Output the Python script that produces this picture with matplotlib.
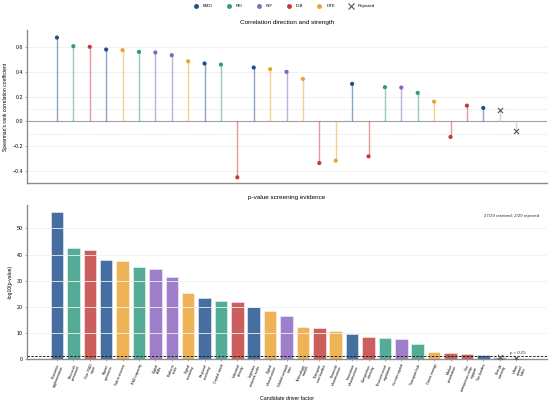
import numpy as np
import matplotlib
matplotlib.use('Agg')
import matplotlib.pyplot as plt
from matplotlib.lines import Line2D

plt.rcParams['font.family'] = ['Liberation Sans', 'DejaVu Sans']

# factors, sorted by p-value
factors = ['Economic\nagglomeration', 'Research\npersonnel', 'Gov. R&D\ninput', 'Export\nopenness',
           'Talent reserve', 'R&D capacity', 'Digital\nskills', 'Platform\nscale',
           'Digital\neconomy', 'Regional\neconomy', 'Capital stock', 'Industrial\ndensity',
           'Logistics\nnetwork scale', 'Digital\ninfrastructure', 'Global network\nlinks',
           'Technology\nmarket', 'Transport\ncost burden', 'Financial\ninfrastructure',
           'Innovation\ninfrastructure', 'Competition\nintensity', 'Environmental\nregulation',
           'Human capital', 'Transport hub', 'Green energy', 'Market\npenetration',
           'Gov.\nentrepreneurship\nsupport', 'Tax burden', 'Energy\nintensity',
           'Urban\nsprawl\nindex']
groups = ['EMO', 'FEI', 'IGB', 'EMO', 'DTE', 'FEI', 'INF', 'INF', 'DTE', 'EMO',
          'FEI', 'IGB', 'EMO', 'DTE', 'INF', 'DTE', 'IGB', 'DTE', 'EMO', 'IGB',
          'FEI', 'INF', 'FEI', 'DTE', 'IGB', 'IGB', 'EMO', 'REJ', 'REJ']
rho = [0.678, 0.608, 0.603, 0.581, 0.576, 0.562, 0.557, 0.535, 0.486, 0.468,
       0.459, -0.454, 0.435, 0.422, 0.400, 0.343, -0.338, -0.319, 0.303, -0.284,
       0.276, 0.273, 0.230, 0.159, -0.127, 0.127, 0.108, 0.095, -0.081]
neglogp = [56.4, 42.4, 41.9, 37.9, 37.4, 35.4, 34.6, 31.3, 25.2, 23.2,
           22.4, 21.7, 20.0, 18.6, 16.4, 12.4, 11.8, 10.6, 9.6, 8.5,
           7.9, 7.7, 5.8, 2.9, 2.2, 2.0, 1.6, 0.9, 0.6]

colors = {'EMO': '#1f4e8c', 'FEI': '#2f9a7f', 'INF': '#8a63bf', 'IGB': '#c23b3b',
          'DTE': '#eba232', 'REJ': '#9a9a9a'}
legend_order = ['EMO', 'FEI', 'INF', 'IGB', 'DTE']

n = len(rho)
x = np.arange(n)
threshold = -np.log10(0.05)

fig = plt.figure(figsize=(5.5, 4.04), dpi=100)
ax1 = fig.add_axes([0.049, 0.547, 0.946, 0.379])
ax2 = fig.add_axes([0.049, 0.111, 0.946, 0.382])

spine_col = '#8c8c8c'
for ax in (ax1, ax2):
    for s in ['top', 'right']:
        ax.spines[s].set_visible(False)
    for s in ['left', 'bottom']:
        ax.spines[s].set_color(spine_col)
        ax.spines[s].set_linewidth(1.0)
    ax.tick_params(labelsize=3.8, length=1.5, width=0.5, color=spine_col, pad=1.5)
    ax.set_xlim(-1.83, n + 0.9)

# top: lollipop of Spearman rho
for yv in [-0.4, -0.2, 0.2, 0.4, 0.6]:
    ax1.axhline(yv, color='#efefef', lw=0.6, zorder=0)
for yv in [-0.1, 0.1]:
    ax1.axhline(yv, color='#d8d8d8', lw=0.6, ls=(0, (1, 1.5)), zorder=0)
ax1.axhline(0, color='#a0a0a0', lw=0.8, zorder=1)
for i in range(n):
    g = groups[i]
    if g == 'REJ':
        ax1.vlines(x[i], 0, rho[i], color='#cfd4da', lw=1.0, zorder=2)
        ax1.scatter(x[i], rho[i], marker='x', s=14, color='#555555', linewidths=0.8, zorder=3)
    else:
        ax1.vlines(x[i], 0, rho[i], color=colors[g], alpha=0.5, lw=1.0, zorder=2)
        ax1.scatter(x[i], rho[i], s=9, color=colors[g], edgecolors='none', zorder=3)
ax1.set_ylim(-0.5, 0.74)
ax1.set_yticks([-0.4, -0.2, 0.0, 0.2, 0.4, 0.6])
ax1.set_xticks([])
ax1.set_ylabel("Spearman's rank correlation coefficient", fontsize=3.6, labelpad=3)
ax1.set_title('Correlation direction and strength', fontsize=4.6, pad=4)

# bottom: -log10(p) bars
bar_cols = [colors[g] for g in groups]
ax2.bar(x, neglogp, width=0.76, color=bar_cols, alpha=0.82, edgecolor='white', linewidth=0.4, zorder=1)
for i in range(n):
    if groups[i] == 'REJ':
        ax2.scatter(x[i], neglogp[i], marker='x', s=14, color='#555555', linewidths=0.8, zorder=4)
for yv in [10, 20, 30, 40, 50]:
    ax2.axhline(yv, color='#f0f0f0', lw=0.6, zorder=2)
ax2.axhline(threshold, color='#222222', lw=0.7, ls=(0, (2.5, 1.5)), zorder=3)
ax2.text(27.6, threshold + 0.3, 'p = 0.05', fontsize=3.2, color='#333333', va='bottom', ha='left')
ax2.text(0.985, 0.93, '27/29 retained; 2/29 rejected', transform=ax2.transAxes,
         fontsize=3.2, color='#333333', ha='right', va='center')
ax2.set_ylim(0, 59)
ax2.set_yticks([0, 10, 20, 30, 40, 50])
ax2.set_xticks(x)
ax2.set_xticklabels(factors, rotation=68, ha='right', rotation_mode='anchor',
                    fontsize=2.6, linespacing=1.0)
ax2.set_ylabel('-log10(p-value)', fontsize=3.6, labelpad=3)
ax2.set_xlabel('Candidate driver factor', fontsize=3.8, labelpad=2)
ax2.set_title('p-value screening evidence', fontsize=4.6, pad=4)

handles = [Line2D([], [], ls='none', marker='o', ms=2.5, color=colors[g], label=g) for g in legend_order]
handles.append(Line2D([], [], ls='none', marker='x', ms=4, mew=0.8, color='#555555', label='Rejected'))
fig.legend(handles=handles, loc='upper center', bbox_to_anchor=(0.515, 1.0), ncol=6,
           frameon=False, fontsize=3.2, handletextpad=0.6, columnspacing=2.6)

fig.savefig('out.png', dpi=100)
